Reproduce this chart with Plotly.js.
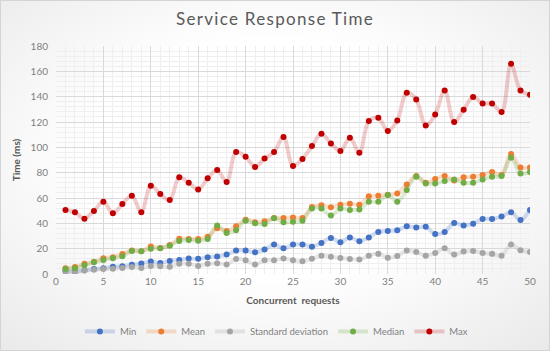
<!DOCTYPE html>
<html>
<head>
<meta charset="utf-8">
<script src="https://cdn.plot.ly/plotly-3.0.1.min.js"></script>
<style>
  html, body { margin: 0; padding: 0; background: #ffffff; }
  #frame {
    position: absolute; left: 0; top: 0; width: 548px; height: 349px;
    border: 1px solid #d4d4d4;
    background: radial-gradient(ellipse 75% 75% at 50% 45%, #ffffff 45%, #e9e9e9 100%);
  }
  #chart { position: absolute; left: -1px; top: -1px; width: 550px; height: 351px; }
</style>
</head>
<body>
<div id="frame"><div id="chart"></div></div>
<script>
const requests = Array.from({length: 50}, (_, i) => i + 1);

const minVals = [2.4, 1.9, 2.9, 4.0, 4.5, 5.8, 6.1, 7.4, 8.2, 9.8,
                 8.7, 10.3, 11.1, 12.2, 12.0, 13.3, 13.8, 15.4, 18.5, 18.5,
                 17.2, 19.3, 23.2, 20.3, 23.2, 23.2, 21.6, 24.5, 28.5, 25.0,
                 28.9, 25.8, 28.9, 33.2, 34.0, 34.5, 37.6, 36.8, 37.4, 31.6,
                 33.2, 40.3, 38.2, 39.7, 43.5, 43.5, 45.3, 48.7, 42.7, 50.6];

const meanVals = [4.6, 5.6, 8.0, 9.6, 12.4, 13.2, 15.8, 18.5, 18.0, 21.8,
                  20.6, 22.8, 27.9, 27.7, 27.7, 29.5, 36.1, 34.0, 37.7, 42.9,
                  40.8, 41.6, 44.2, 44.2, 44.7, 44.2, 52.8, 54.2, 52.6, 54.7,
                  55.5, 54.7, 61.3, 61.8, 62.6, 63.6, 70.7, 77.4, 72.1, 75.0,
                  77.4, 73.9, 76.3, 76.8, 78.2, 80.5, 78.2, 94.7, 84.1, 84.1];

const stdVals = [1.8, 1.6, 2.7, 3.4, 4.0, 4.2, 4.8, 5.6, 4.8, 6.4,
                 6.1, 5.8, 8.0, 8.0, 6.4, 8.0, 8.5, 7.5, 11.9, 10.9,
                 7.5, 10.9, 10.9, 12.2, 10.8, 10.0, 12.1, 14.5, 13.7, 12.7,
                 11.9, 11.4, 14.5, 15.9, 12.9, 14.3, 18.5, 17.4, 14.5, 16.6,
                 20.3, 15.3, 17.7, 18.2, 16.6, 15.9, 14.5, 23.2, 18.7, 17.4];

const medianVals = [4.0, 4.5, 6.9, 9.2, 11.1, 12.4, 14.0, 18.2, 17.9, 20.0,
                    20.3, 22.4, 26.1, 26.9, 26.3, 27.7, 38.2, 32.4, 34.5, 42.1,
                    40.0, 39.5, 44.0, 40.8, 41.3, 42.1, 51.8, 51.8, 46.1, 51.8,
                    50.6, 51.0, 57.1, 57.1, 62.4, 57.1, 66.3, 76.8, 71.5, 71.5,
                    73.4, 74.7, 72.1, 72.1, 74.7, 76.8, 77.4, 91.8, 79.4, 80.5];

const maxVals = [50.6, 48.7, 43.7, 49.8, 57.1, 47.9, 55.3, 61.8, 48.7, 69.7,
                 63.2, 58.4, 76.3, 72.1, 66.8, 75.5, 82.1, 72.7, 96.3, 92.6,
                 84.5, 91.2, 96.3, 108.1, 85.3, 90.8, 101.0, 110.7, 103.1, 97.1,
                 107.6, 95.7, 120.7, 123.3, 112.9, 121.2, 143.1, 137.8, 117.3, 125.9,
                 144.9, 120.0, 129.7, 139.7, 134.6, 134.6, 127.8, 165.9, 144.9, 141.5];

const seriesNames = ['Min', 'Mean', 'Standard deviation', 'Median', 'Max'];
const seriesData = [minVals, meanVals, stdVals, medianVals, maxVals];
const markerColors = ['#4472C4', '#ED7D31', '#A5A5A5', '#70AD47', '#C00000'];
const lineColors = ['rgba(68,114,196,0.24)', 'rgba(237,125,49,0.24)', 'rgba(165,165,165,0.26)',
                    'rgba(112,173,71,0.24)', 'rgba(192,0,0,0.2)'];

const FONT = 'Lato, "Open Sans", sans-serif';

const traces = seriesNames.map((name, k) => ({
  x: requests,
  y: seriesData[k],
  name: name,
  type: 'scatter',
  mode: 'lines+markers',
  line: {shape: 'spline', smoothing: 1, width: 4, color: lineColors[k]},
  marker: {size: 6, color: markerColors[k]}
}));

const layout = {
  width: 550, height: 351,
  paper_bgcolor: 'rgba(0,0,0,0)',
  plot_bgcolor: 'rgba(0,0,0,0)',
  margin: {l: 56, r: 20, t: 46, b: 77, autoexpand: false},
  font: {family: FONT, color: '#7f7f7f', size: 10},
  title: {
    text: 'Service Response Time',
    font: {family: FONT, size: 17, color: '#595959'},
    x: 0.5, xanchor: 'center', y: 0.945, yanchor: 'middle'
  },
  xaxis: {
    range: [0, 50],
    dtick: 5, tick0: 0,
    showgrid: true, gridcolor: '#d9d9d9', gridwidth: 1,
    minor: {dtick: 1, showgrid: true, gridcolor: '#efefef', gridwidth: 1},
    zeroline: false, showline: false, ticks: '',
    tickfont: {family: FONT, size: 10, color: '#7f7f7f'},
    title: {text: '<b>Concurrent  requests</b>', font: {family: FONT, size: 10, color: '#595959'}, standoff: 10},
    automargin: false,
    fixedrange: true
  },
  yaxis: {
    range: [0, 180],
    dtick: 20, tick0: 0,
    showgrid: true, gridcolor: '#d9d9d9', gridwidth: 1,
    minor: {dtick: 4, showgrid: true, gridcolor: '#efefef', gridwidth: 1},
    zeroline: false, showline: false, ticks: '',
    ticklabelstandoff: 7,
    tickfont: {family: FONT, size: 10, color: '#7f7f7f'},
    title: {text: '<b>Time (ms)</b>', font: {family: FONT, size: 10, color: '#595959'}, standoff: 8},
    automargin: false,
    fixedrange: true
  },
  showlegend: true,
  legend: {
    orientation: 'h',
    x: 0.465, xanchor: 'center',
    y: -0.252, yanchor: 'middle',
    font: {family: FONT, size: 9.5, color: '#7f7f7f'},
    bgcolor: 'rgba(0,0,0,0)',
    itemwidth: 30,
    tracegroupgap: 0
  }
};

Plotly.newPlot('chart', traces, layout, {displayModeBar: false, staticPlot: true}).then(() => {
  const t = document.querySelector('#chart .gtitle');
  if (t) { t.style.letterSpacing = '1.3px'; }
});
</script>
</body>
</html>
